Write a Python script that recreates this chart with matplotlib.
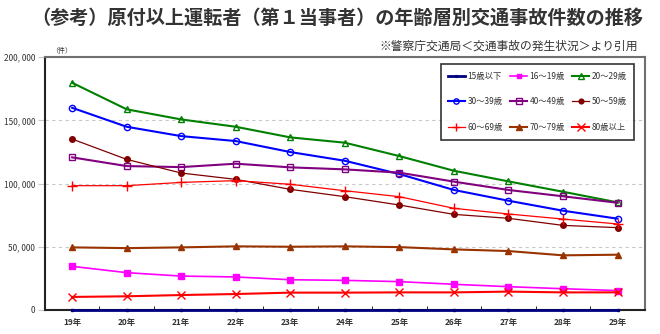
import matplotlib
matplotlib.use('Agg')
import matplotlib.pyplot as plt

plt.rcParams['font.family'] = ['Noto Sans CJK JP', 'DejaVu Sans']

years = ['19年', '20年', '21年', '22年', '23年', '24年', '25年', '26年', '27年', '28年', '29年']

# 年齢層別の件数
age_15 = [300, 300, 300, 300, 300, 300, 300, 300, 300, 300, 300]
age_16_19 = [34500, 29500, 26800, 26100, 23900, 23400, 22400, 20300, 18400, 16800, 15300]
age_20_29 = [179700, 158700, 150700, 144900, 136500, 132300, 121700, 110100, 101700, 93500, 85100]
age_30_39 = [159900, 144900, 137500, 133600, 124900, 118000, 107500, 94900, 86400, 78500, 72200]
age_40_49 = [120700, 113800, 113000, 115700, 112800, 111200, 108600, 101500, 94900, 89900, 84800]
age_50_59 = [135200, 119100, 108300, 103300, 95400, 89600, 83000, 75600, 72500, 66900, 65100]
age_60_69 = [98300, 98300, 100900, 102300, 99400, 94300, 89600, 80400, 75900, 71900, 68000]
age_70_79 = [49500, 48900, 49500, 50300, 50000, 50300, 49700, 47900, 46600, 43200, 43700]
age_80 = [10300, 10800, 11800, 12600, 13700, 13700, 13900, 13900, 14500, 13900, 13900]

yticks = [0, 50000, 100000, 150000, 200000]
ytick_labels = ['0', '50, 000', '100, 000', '150, 000', '200, 000']

fig = plt.figure(figsize=(6.6, 3.34), dpi=100)
ax = fig.add_axes([0.068, 0.072, 0.909, 0.757])

x = range(len(years))
series = [
    ('15歳以下', age_15, '#000080', 's', 2.0, 1.5, 'full'),
    ('16～19歳', age_16_19, '#FF00FF', 's', 1.2, 4, 'full'),
    ('20～29歳', age_20_29, '#008000', '^', 1.5, 4.5, 'none'),
    ('30～39歳', age_30_39, '#0000FF', 'o', 1.5, 4.5, 'none'),
    ('40～49歳', age_40_49, '#800080', 's', 1.5, 4.5, 'none'),
    ('50～59歳', age_50_59, '#800000', 'o', 0.9, 4, 'full'),
    ('60～69歳', age_60_69, '#FF0000', '+', 0.9, 7, 'full'),
    ('70～79歳', age_70_79, '#993300', '^', 1.5, 5, 'full'),
    ('80歳以上', age_80, '#FF0000', 'x', 1.5, 6, 'full'),
]
lines = []
for label, vals, color, marker, lw, ms, fill in series:
    ln, = ax.plot(x, vals, color=color, marker=marker, linewidth=lw, markersize=ms,
                  fillstyle=fill, markerfacecolor='white' if fill == 'none' else color,
                  markeredgewidth=1.0, label=label, clip_on=False, zorder=3)
    lines.append(ln)

ax.set_xlim(-0.5, len(years) - 0.5)
ax.set_ylim(0, 200000)
ax.set_yticks(yticks)
ax.set_yticklabels(ytick_labels)
ax.set_xticks(x)
ax.set_xticklabels(years, fontweight='bold')
ax.set_xticks([i + 0.5 for i in range(len(years) - 1)], minor=True)

for v in yticks[1:-1]:
    ax.axhline(v, color='#c8c8c8', linestyle=(0, (3, 3)), linewidth=0.8, zorder=1)

ax.tick_params(axis='y', length=5, color='#c8c8c8', labelsize=6, labelcolor='#333333', pad=2)
ax.tick_params(axis='x', which='major', length=0, labelsize=6, labelcolor='#333333', pad=6)
ax.tick_params(axis='x', which='minor', direction='in', length=3, color='black')

for side in ['left', 'bottom']:
    ax.spines[side].set_linewidth(1.5)
    ax.spines[side].set_color('#222222')
for side in ['top', 'right']:
    ax.spines[side].set_linewidth(1.5)
    ax.spines[side].set_color('#707070')

# legend is filled row by row in the reference
order = [0, 3, 6, 1, 4, 7, 2, 5, 8]
leg = ax.legend([lines[i] for i in order], [series[i][0] for i in order],
                ncol=3, loc='upper right', bbox_to_anchor=(0.982, 0.972),
                fontsize=6, frameon=True, fancybox=False, edgecolor='black',
                handlelength=2.0, handletextpad=0.3, columnspacing=0.9,
                labelspacing=2.0, borderpad=0.9, borderaxespad=0,
                markerscale=0.85)
leg.get_frame().set_linewidth(1.2)
for t in leg.get_texts():
    t.set_color('#333333')

fig.text(0.048, 0.945, '（参考）原付以上運転者（第１当事者）の年齢層別交通事故件数の推移',
         fontsize=13.8, fontweight='bold', color='#333333', va='center', ha='left')
fig.text(0.967, 0.862, '※警察庁交通局＜交通事故の発生状況＞より引用',
         fontsize=8.5, color='#333333', va='center', ha='right')
fig.text(0.078, 0.848, '（件）', fontsize=5, color='#333333', va='center', ha='left')

fig.savefig('out.png', dpi=100)
